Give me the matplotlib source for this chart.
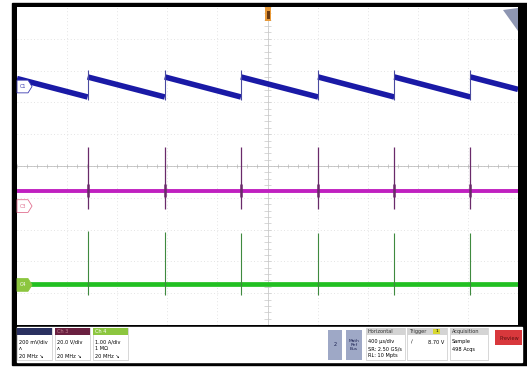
import numpy as np
import matplotlib
matplotlib.use('Agg')
from matplotlib import pyplot as plt
from matplotlib.patches import Rectangle, Polygon
import matplotlib.transforms as mtransforms

plt.rcParams['font.family'] = ['Liberation Sans Narrow', 'DejaVu Sans']

# --- data (time in us, levels in divisions) ---
pulse_t = [-1436, -820, -212, 404, 1012, 1620]

ch1_start = 2.75      # level at left edge
ch1_top = 2.80        # level right after each jump
ch1_bottom = 2.17     # level right before each jump
ch1_end = 2.41        # level at right edge
ch1_peak = 3.02       # overshoot at the jump

ch3_base = -0.79
ch3_spike_hi = 0.60
ch3_spike_lo = -1.35

ch4_base = -3.71
ch4_spike_hi = [-2.04, -2.07, -2.10, -2.10, -2.10, -2.10]
ch4_spike_lo = -4.06

marker_lvl = {'C1': 2.50, 'C3': -1.26, 'C4': -3.74}

ch_labels = ['Ch 1', 'Ch 3', 'Ch 4']
ch_scale = ['200 mV/div', '20.0 V/div', '1.00 A/div']
ch_coupl = ['\u028c', '\u028c', '1 M\u03a9']
ch_bw = ['20 MHz \u2198', '20 MHz \u2198', '20 MHz \u2198']

horiz_txt = ['400 \u00b5s/div', 'SR: 2.50 GS/s', 'RL: 10 Mpts']
trig_level = '8.70 V'
acq_txt = ['Sample', '498 Acqs']

W, H = 527, 367
fig = plt.figure(figsize=(W / 100, H / 100), dpi=100)

# background layer in pixel coordinates
bg = fig.add_axes([0, 0, 1, 1])
bg.set_xlim(0, W)
bg.set_ylim(H, 0)
bg.axis('off')
bg.add_patch(Rectangle((12, 3), W - 12, 362, color='black'))
bg.add_patch(Rectangle((17, 327), 505, 35, color='white'))


def px_axes(x0, y0, x1, y1):
    return [x0 / W, (H - y1) / H, (x1 - x0) / W, (y1 - y0) / H]


ax = fig.add_axes(px_axes(17, 7, 518, 325))
ax.set_facecolor('white')
ax.set_xlim(-2000, 2000)
ax.set_ylim(-5, 5)
ax.set_xticks([]), ax.set_yticks([])
for s in ax.spines.values():
    s.set_visible(False)

# graticule
for gx in np.arange(-1600, 1601, 400):
    ax.axvline(gx, color='#dadada', lw=0.6, ls=(0, (1, 3)), zorder=0)
for gy in range(-4, 5):
    ax.axhline(gy, color='#dadada', lw=0.6, ls=(0, (1, 3)), zorder=0)
ax.axhline(0, color='#b4b4b4', lw=0.5, zorder=0)
ax.axvline(0, color='#c4c4c4', lw=0.5, zorder=0)
mx = np.arange(-2000, 2001, 80)
ax.vlines(mx, -0.06, 0.06, color='#b8b8b8', lw=0.5, zorder=0)
my = np.arange(-5, 5.01, 0.2)
ax.hlines(my, -25, 25, color='#c8c8c8', lw=0.5, zorder=0)

# Ch1 sawtooth: one ramp between each pair of jumps
starts = [-2000] + pulse_t
ends = pulse_t + [2000]
v_start = [ch1_start] + [ch1_top] * len(pulse_t)
v_end = [ch1_bottom] * len(pulse_t) + [ch1_end]
for ta, tb, va, vb in zip(starts, ends, v_start, v_end):
    ax.plot([ta, tb], [va, vb], color='#1a1aa6', lw=4.0, solid_capstyle='butt', zorder=3)
ax.vlines(pulse_t, ch1_bottom - 0.08, ch1_peak, color='#4a4aa0', lw=0.8, zorder=3)

# Ch3
ax.axhline(ch3_base, color='#c020c0', lw=2.8, zorder=3)
ax.vlines(pulse_t, ch3_spike_lo, ch3_spike_hi, color='#6a2a6a', lw=0.9, zorder=4)
ax.vlines(pulse_t, ch3_base - 0.2, ch3_base + 0.22, color='#6a2a6a', lw=1.8, zorder=4)

# Ch4
ax.axhline(ch4_base, color='#22c022', lw=3.4, zorder=3)
ax.vlines(pulse_t, ch4_spike_lo, ch4_spike_hi, color='#3f8a3f', lw=0.8, zorder=4)

# channel markers at left edge
tr = mtransforms.blended_transform_factory(ax.transAxes, ax.transData)
mk_style = {'C1': ('white', '#3a3ab0', '#3a3ab0'),
            'C3': ('white', '#e07090', '#e07090'),
            'C4': ('#8cc63f', '#8cc63f', 'white')}
for name, lvl in marker_lvl.items():
    fc, ec, tc = mk_style[name]
    w, h = 0.022, 0.2
    ax.add_patch(Polygon([(0, lvl - h), (w, lvl - h), (w + 0.008, lvl), (w, lvl + h), (0, lvl + h)],
                         closed=True, transform=tr, fc=fc, ec=ec, lw=0.6, zorder=6, clip_on=False))
    ax.text(0.012, lvl, name, transform=tr, ha='center', va='center', fontsize=3.5,
            color=tc, zorder=7)

# trigger position marker and corner icon
bg2 = fig.add_axes([0, 0, 1, 1], zorder=5)
bg2.set_xlim(0, W)
bg2.set_ylim(H, 0)
bg2.axis('off')
bg2.add_patch(Rectangle((265, 7), 6, 14, fc='#e89a3a', ec='none'))
bg2.add_patch(Rectangle((266.5, 11), 3, 8, fc='#6a3a10', ec='none'))
bg2.add_patch(Polygon([(503, 10), (518, 8), (518, 31)], closed=True, fc='#8e96b2', ec='none'))

# bottom status panel
fs = 3.6
head_c = ['#2a3060', '#6a2040', '#8cc63f']
head_tc = ['#2a3060', '#c08090', 'white']
for i, x0 in enumerate([17, 55, 93]):
    bg2.add_patch(Rectangle((x0, 328), 35, 32, fc='white', ec='#c8c8c8', lw=0.5))
    bg2.add_patch(Rectangle((x0, 328), 35, 7, fc=head_c[i], ec='none'))
    bg2.text(x0 + 2, 331.5, ch_labels[i], fontsize=fs, color=head_tc[i], va='center')
    bg2.text(x0 + 2, 342, ch_scale[i], fontsize=fs, va='center')
    bg2.text(x0 + 2, 349, ch_coupl[i], fontsize=fs, va='center')
    bg2.text(x0 + 2, 356, ch_bw[i], fontsize=fs, va='center')

bg2.add_patch(Rectangle((328, 330), 14, 30, fc='#9ea8c6', ec='none'))
bg2.text(335, 345, '2', fontsize=fs, ha='center', va='center', color='#1a2050')
bg2.add_patch(Rectangle((346, 330), 16, 30, fc='#9ea8c6', ec='none'))
bg2.text(354, 345, 'Math\nRef\nBus', fontsize=3.2, ha='center', va='center',
         color='#1a2050', linespacing=1.1)

for x0, x1, title in [(366, 405, 'Horizontal'), (407, 447, 'Trigger'), (450, 488, 'Acquisition')]:
    bg2.add_patch(Rectangle((x0, 328), x1 - x0, 32, fc='white', ec='#c8c8c8', lw=0.5))
    bg2.add_patch(Rectangle((x0, 328), x1 - x0, 7, fc='#d4d4d4', ec='none'))
    bg2.text(x0 + 2, 331.5, title, fontsize=fs, va='center', color='#303030')
for k, s in enumerate(horiz_txt):
    bg2.text(368, 342 + 7 * k, s, fontsize=fs, va='center')
bg2.add_patch(Rectangle((433, 329), 7, 5, fc='#d8d830', ec='none'))
bg2.text(436.5, 331.5, '1', fontsize=3.2, ha='center', va='center')
bg2.text(411, 342, '\u2215', fontsize=fs, va='center')
bg2.text(444, 342, trig_level, fontsize=fs, va='center', ha='right')
for k, s in enumerate(acq_txt):
    bg2.text(452, 342 + 7 * k, s, fontsize=fs, va='center')

bg2.add_patch(Rectangle((495, 330), 27, 15, fc='#d8383c', ec='none'))
bg2.text(499, 338, 'Preview', fontsize=fs, va='center', color='#5a1010')

fig.savefig('out.png', dpi=100)
